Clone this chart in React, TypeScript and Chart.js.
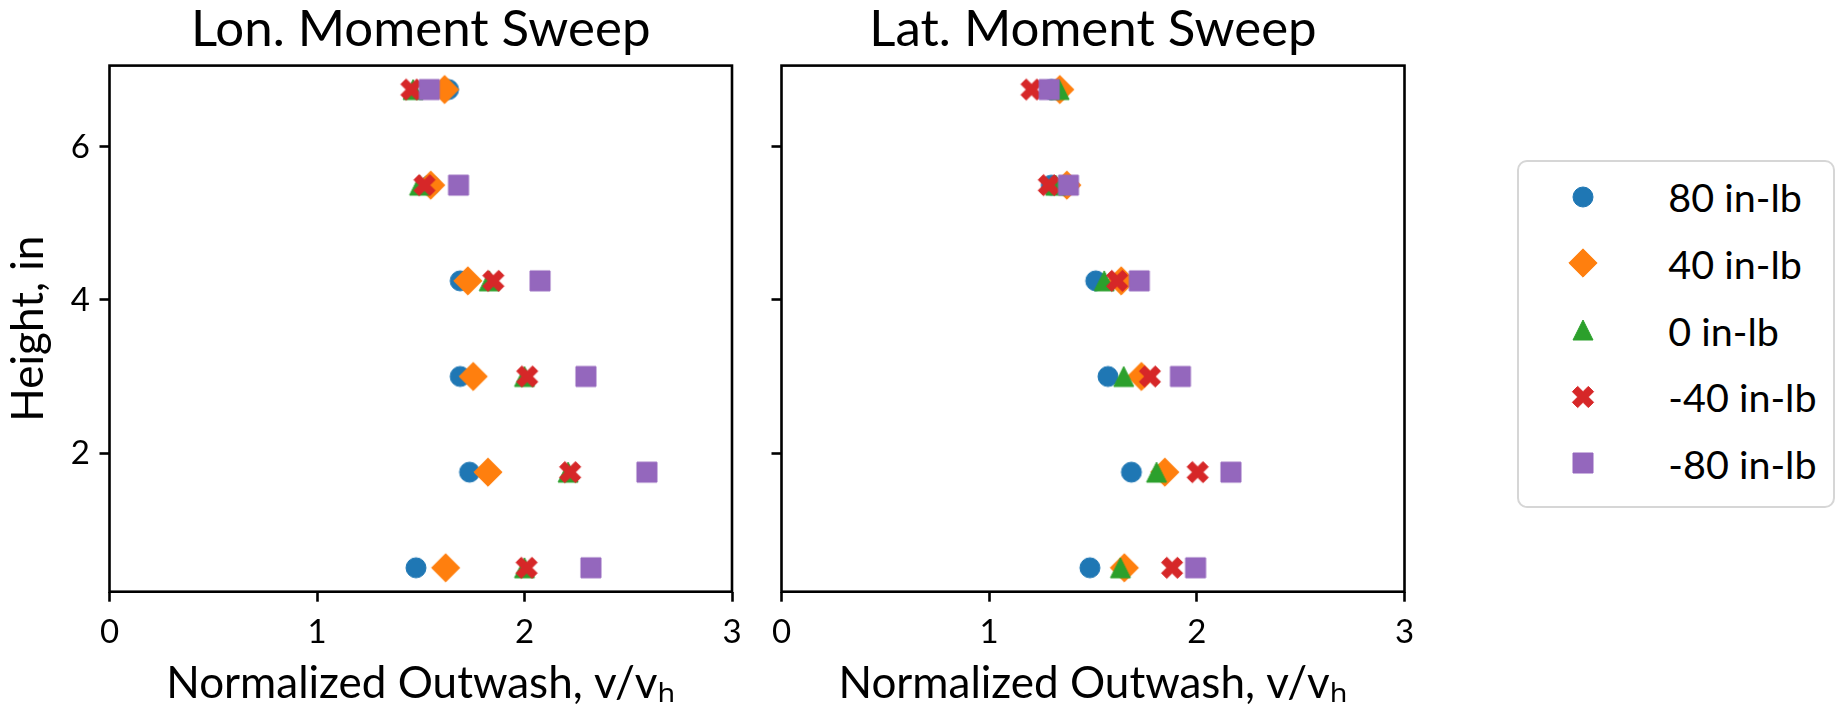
import React, { useEffect, useRef } from 'react';
import { Chart, registerables } from 'chart.js';

Chart.register(...registerables);

// ---------------- data ----------------
const heights = [0.5, 1.75, 3.0, 4.25, 5.5, 6.75];

const seriesLabels = ['80 in-lb', '40 in-lb', '0 in-lb', '-40 in-lb', '-80 in-lb'];
const seriesColors = ['#1f77b4', '#ff7f0e', '#2ca02c', '#d62728', '#9467bd'];
const seriesMarkers = ['circle', 'diamond', 'triangle', 'x', 'square'];

// Lon. moment sweep (values listed bottom-to-top, matching `heights`)
const lon80 = [1.477, 1.735, 1.69, 1.69, 1.546, 1.634];
const lon40 = [1.62, 1.824, 1.753, 1.727, 1.548, 1.615];
const lon0 = [2.0, 2.21, 2.0, 1.83, 1.494, 1.463];
const lonM40 = [2.01, 2.22, 2.013, 1.85, 1.518, 1.455];
const lonM80 = [2.32, 2.59, 2.296, 2.075, 1.682, 1.541];

// Lat. moment sweep
const lat80 = [1.485, 1.685, 1.572, 1.513, 1.299, 1.3];
const lat40 = [1.651, 1.846, 1.733, 1.636, 1.374, 1.34];
const lat0 = [1.632, 1.806, 1.648, 1.554, 1.32, 1.337];
const latM40 = [1.881, 2.004, 1.774, 1.616, 1.287, 1.204];
const latM80 = [1.994, 2.164, 1.921, 1.723, 1.382, 1.289];

const lonSeries = [lon80, lon40, lon0, lonM40, lonM80];
const latSeries = [lat80, lat40, lat0, latM40, latM80];

const xTicks = [0, 1, 2, 3];
const yTicks = [2, 4, 6];
const xMin = 0;
const xMax = 3;
const yMin = 0.1875;
const yMax = 7.0625;

const titleLon = 'Lon. Moment Sweep';
const titleLat = 'Lat. Moment Sweep';
const xTitle = 'Normalized Outwash, v/v\u2095';
const yTitle = 'Height, in';

// ---------------- style ----------------
const FONT = 'Lato, "Noto Sans", sans-serif';
const MARKER_SIZE = 20;
const X_MARKER_SIZE = 22.5;
const SPINE_W = 2.6;

function drawMarker(ctx: CanvasRenderingContext2D, kind: string, cx: number, cy: number, s: number, color: string) {
  ctx.save();
  ctx.fillStyle = color;
  ctx.strokeStyle = color;
  ctx.lineWidth = 1;
  ctx.lineJoin = 'miter';
  ctx.beginPath();
  const h = s / 2;
  if (kind === 'circle') {
    ctx.arc(cx, cy, h, 0, Math.PI * 2);
  } else if (kind === 'square') {
    ctx.rect(cx - h, cy - h, s, s);
  } else if (kind === 'diamond') {
    const d = h * Math.SQRT2;
    ctx.moveTo(cx, cy - d);
    ctx.lineTo(cx + d, cy);
    ctx.lineTo(cx, cy + d);
    ctx.lineTo(cx - d, cy);
    ctx.closePath();
  } else if (kind === 'triangle') {
    ctx.moveTo(cx, cy - h);
    ctx.lineTo(cx + h, cy + h);
    ctx.lineTo(cx - h, cy + h);
    ctx.closePath();
  } else if (kind === 'x') {
    const pts = [[-1, -3], [1, -3], [1, -1], [3, -1], [3, 1], [1, 1], [1, 3], [-1, 3], [-1, 1], [-3, 1], [-3, -1], [-1, -1]];
    const k = X_MARKER_SIZE / 6;
    pts.forEach(([px, py], i) => {
      const rx = ((px - py) / Math.SQRT2) * k;
      const ry = ((px + py) / Math.SQRT2) * k;
      if (i === 0) ctx.moveTo(cx + rx, cy + ry);
      else ctx.lineTo(cx + rx, cy + ry);
    });
    ctx.closePath();
  }
  ctx.fill();
  ctx.stroke();
  ctx.restore();
}

function makeMarkerCanvas(kind: string, color: string): HTMLCanvasElement {
  const c = document.createElement('canvas');
  c.width = 36;
  c.height = 36;
  const ctx = c.getContext('2d')!;
  drawMarker(ctx, kind, 18, 18, MARKER_SIZE, color);
  return c;
}

const framePlugin = {
  id: 'frame',
  afterDatasetsDraw(chart: any) {
    const { ctx, chartArea } = chart;
    ctx.save();
    ctx.strokeStyle = '#000';
    ctx.lineWidth = SPINE_W;
    ctx.strokeRect(chartArea.left, chartArea.top, chartArea.right - chartArea.left, chartArea.bottom - chartArea.top);
    ctx.restore();
  },
};

interface PanelGeom {
  yAxisWidth: number;
  padRight: number;
  showYLabels: boolean;
}

function buildConfig(title: string, series: number[][], g: PanelGeom): any {
  const markers = seriesMarkers.map((m, i) => makeMarkerCanvas(m, seriesColors[i]));
  return {
    type: 'scatter',
    data: {
      datasets: series.map((vals, i) => ({
        label: seriesLabels[i],
        data: heights.map((h, j) => ({ x: vals[j], y: h })),
        pointStyle: markers[i],
        pointRadius: 10,
        pointHoverRadius: 10,
        backgroundColor: seriesColors[i],
        borderColor: seriesColors[i],
        order: -i,
      })),
    },
    options: {
      animation: false,
      responsive: false,
      maintainAspectRatio: false,
      events: [],
      layout: { padding: { left: 0, right: g.padRight, top: 0, bottom: 0 } },
      plugins: {
        legend: { display: false },
        tooltip: { enabled: false },
        title: {
          display: true,
          text: title,
          fullSize: false,
          color: '#000',
          font: { family: FONT, size: 51, weight: 'normal', lineHeight: 1.14 },
          padding: { top: 0, bottom: 65.6 - 51 * 1.14 },
        },
      },
      scales: {
        x: {
          type: 'linear',
          position: 'bottom',
          min: xMin,
          max: xMax,
          afterBuildTicks: (s: any) => {
            s.ticks = xTicks.map((v) => ({ value: v }));
          },
          afterFit: (s: any) => {
            s.height = 118.3;
            s.paddingLeft = 0;
            s.paddingRight = 0;
          },
          ticks: {
            color: '#000',
            font: { family: FONT, size: 33, lineHeight: 1.2 },
            padding: 10.9,
            maxRotation: 0,
            minRotation: 0,
            autoSkip: false,
          },
          grid: {
            drawOnChartArea: false,
            drawTicks: true,
            tickLength: 10,
            tickWidth: SPINE_W,
            tickColor: '#000',
          },
          border: { display: false },
          title: {
            display: true,
            text: xTitle,
            color: '#000',
            font: { family: FONT, size: 44, lineHeight: 1.2 },
            padding: { top: 0, bottom: 0 },
          },
        },
        y: {
          type: 'linear',
          position: 'left',
          min: yMin,
          max: yMax,
          afterBuildTicks: (s: any) => {
            s.ticks = yTicks.map((v) => ({ value: v }));
          },
          afterFit: (s: any) => {
            s.width = g.yAxisWidth;
            s.paddingTop = 0;
            s.paddingBottom = 0;
          },
          ticks: {
            display: g.showYLabels,
            color: '#000',
            font: { family: FONT, size: 33, lineHeight: 1.2 },
            padding: 9.5,
          },
          grid: {
            drawOnChartArea: false,
            drawTicks: true,
            tickLength: 10,
            tickWidth: SPINE_W,
            tickColor: '#000',
          },
          border: { display: false },
          title: {
            display: g.showYLabels,
            text: yTitle,
            color: '#000',
            font: { family: FONT, size: 44, lineHeight: 1.2 },
            padding: { top: 2.6, bottom: 0 },
          },
        },
      },
    },
    plugins: [framePlugin],
  };
}

// ---------------- layout ----------------
const W = 1837;
const H = 710;
const C1 = { left: 0, width: 750 };
const C2 = { left: 750, width: 680 };
const legendBox = { left: 1517, top: 160, width: 318, height: 348 };
const legendMarkerX = 1583.3;
const legendTextX = 1668.3;
const legendRowY0 = 196.7;
const legendRowStep = 66.65;

function LegendMarker({ kind, color }: { kind: string; color: string }) {
  const ref = useRef<HTMLCanvasElement>(null);
  useEffect(() => {
    const c = ref.current;
    if (!c) return;
    const ctx = c.getContext('2d')!;
    ctx.clearRect(0, 0, c.width, c.height);
    drawMarker(ctx, kind, 18, 18, MARKER_SIZE, color);
  }, [kind, color]);
  return <canvas ref={ref} width={36} height={36} style={{ display: 'block', width: 36, height: 36 }} />;
}

export default function App() {
  const ref1 = useRef<HTMLCanvasElement>(null);
  const ref2 = useRef<HTMLCanvasElement>(null);

  useEffect(() => {
    const ch1 = new Chart(ref1.current!, buildConfig(titleLon, lonSeries, { yAxisWidth: 109.5, padRight: C1.width - 732, showYLabels: true }));
    const ch2 = new Chart(ref2.current!, buildConfig(titleLat, latSeries, { yAxisWidth: 781.5 - C2.left, padRight: C2.left + C2.width - 1404.5, showYLabels: false }));
    return () => {
      ch1.destroy();
      ch2.destroy();
    };
  }, []);

  return (
    <div style={{ position: 'fixed', left: 0, top: 0, width: W, height: H, background: '#fff', overflow: 'hidden' }}>
      <div style={{ position: 'absolute', left: C1.left, top: 0, width: C1.width, height: H }}>
        <canvas ref={ref1} width={C1.width} height={H} style={{ display: 'block', width: C1.width, height: H }} />
      </div>
      <div style={{ position: 'absolute', left: C2.left, top: 0, width: C2.width, height: H }}>
        <canvas ref={ref2} width={C2.width} height={H} style={{ display: 'block', width: C2.width, height: H }} />
      </div>
      <div
        style={{
          position: 'absolute',
          left: legendBox.left,
          top: legendBox.top,
          width: legendBox.width,
          height: legendBox.height,
          border: '2.5px solid #d6d6d6',
          borderRadius: 10,
          boxSizing: 'border-box',
          background: 'rgba(255,255,255,0.8)',
        }}
      />
      {seriesLabels.map((lab, i) => {
        const cy = legendRowY0 + i * legendRowStep;
        return (
          <React.Fragment key={lab}>
            <div style={{ position: 'absolute', left: legendMarkerX - 18, top: cy - 18 }}>
              <LegendMarker kind={seriesMarkers[i]} color={seriesColors[i]} />
            </div>
            <div
              style={{
                position: 'absolute',
                left: legendTextX,
                top: cy - 30,
                height: 60,
                display: 'flex',
                alignItems: 'center',
                fontFamily: FONT,
                fontSize: 39.5,
                color: '#000',
                whiteSpace: 'nowrap',
              }}
            >
              {lab}
            </div>
          </React.Fragment>
        );
      })}
    </div>
  );
}
